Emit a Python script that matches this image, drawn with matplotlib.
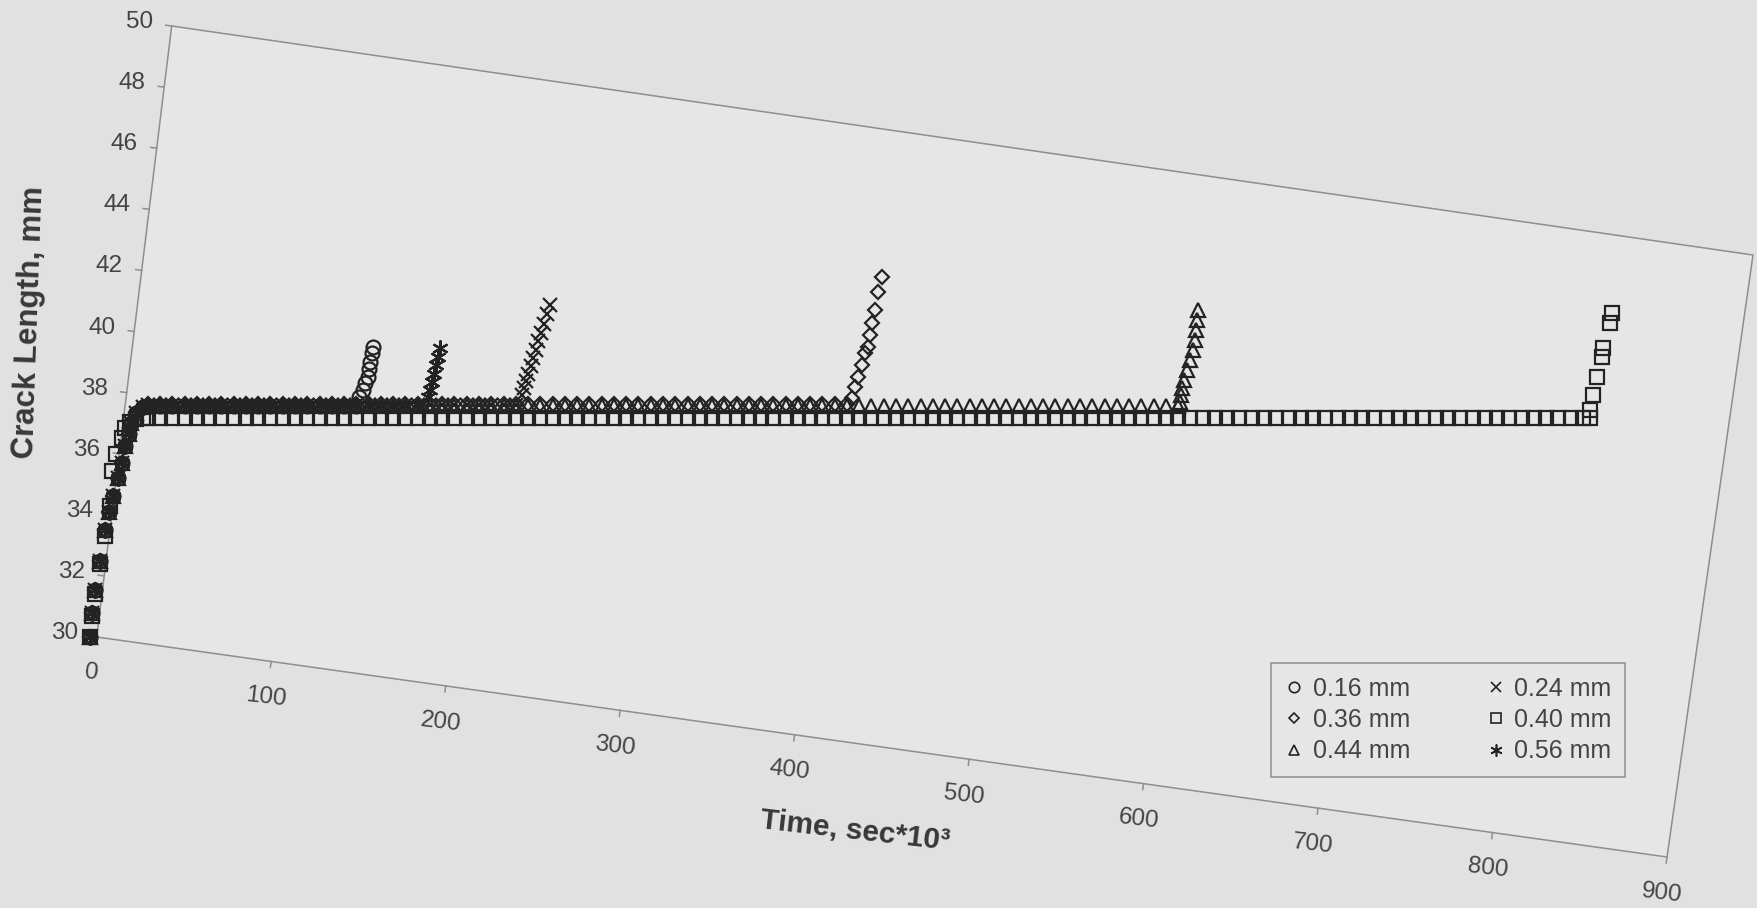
import matplotlib
matplotlib.use("Agg")
import matplotlib.pyplot as plt
from matplotlib.patches import Polygon

plt.rcParams['font.family'] = ['Liberation Sans', 'DejaVu Sans']

# ---------------- data (time in sec*10^3, crack length in mm) ----------------
x_ticks = [0, 100, 200, 300, 400, 500, 600, 700, 800, 900]
y_ticks = [30, 32, 34, 36, 38, 40, 42, 44, 46, 48, 50]

# sample times on the plateau
t_plateau = [33, 40, 47, 54, 61, 68, 75, 82, 89, 96,
             103, 110, 117, 124, 131, 138, 145, 152, 159, 166,
             173, 180, 187, 194, 201, 208, 215, 222, 229, 236,
             243, 250, 257, 264, 271, 278, 285, 292, 299, 306,
             313, 320, 327, 334, 341, 348, 355, 362, 369, 376,
             383, 390, 397, 404, 411, 418, 425, 432, 439, 446,
             453, 460, 467, 474, 481, 488, 495, 502, 509, 516,
             523, 530, 537, 544, 551, 558, 565, 572, 579, 586,
             593, 600, 607, 614, 621, 628, 635, 642, 649, 656,
             663, 670, 677, 684, 691, 698, 705, 712, 719, 726,
             733, 740, 747, 754, 761, 768, 775, 782, 789, 796,
             803, 810, 817, 824, 831, 838, 845, 852]

# initial growth (common to most notches)
t_start_common = [0, 1, 3, 5.7, 8.6, 11, 13.3, 16, 18, 20, 22, 23.5, 26, 30]
len_start_common = [30.0, 30.8, 31.55, 32.5, 33.5, 34.1, 34.6, 35.2, 35.7, 36.25, 36.65, 37.0, 37.33, 37.52]
t_start_040 = [0, 1, 3, 5.7, 8.6, 11.4, 12.4, 15, 18, 20, 23, 26, 30]
len_start_040 = [30.0, 30.7, 31.4, 32.4, 33.3, 34.3, 35.45, 36.0, 36.5, 36.85, 37.05, 37.15, 37.18]

# plateau values
len_plat_016 = [37.55, 37.55, 37.55, 37.55, 37.55, 37.55, 37.55, 37.55, 37.55, 37.55,
                37.55, 37.55, 37.55, 37.55, 37.55, 37.55, 37.55, 37.55]
len_plat_056 = [37.58, 37.58, 37.58, 37.58, 37.58, 37.58, 37.58, 37.58, 37.58, 37.58,
                37.58, 37.58, 37.58, 37.58, 37.58, 37.58, 37.58, 37.58, 37.58, 37.58,
                37.58, 37.58, 37.58]
len_plat_024 = [37.6, 37.6, 37.6, 37.6, 37.6, 37.6, 37.6, 37.6, 37.6, 37.6,
                37.6, 37.6, 37.6, 37.6, 37.6, 37.6, 37.6, 37.6, 37.6, 37.6,
                37.6, 37.6, 37.6, 37.6, 37.6, 37.6, 37.6, 37.6, 37.6, 37.6,
                37.6]
len_plat_036 = [37.62, 37.62, 37.62, 37.62, 37.62, 37.62, 37.62, 37.62, 37.62, 37.62,
                37.62, 37.62, 37.62, 37.62, 37.62, 37.62, 37.62, 37.62, 37.62, 37.62,
                37.62, 37.62, 37.62, 37.62, 37.62, 37.62, 37.62, 37.62, 37.62, 37.62,
                37.62, 37.62, 37.62, 37.62, 37.62, 37.62, 37.62, 37.62, 37.62, 37.62,
                37.62, 37.62, 37.62, 37.62, 37.62, 37.62, 37.62, 37.62, 37.62, 37.62,
                37.62, 37.62, 37.62, 37.62, 37.62, 37.62, 37.62, 37.62]
len_plat_044 = [37.55, 37.55, 37.55, 37.55, 37.55, 37.55, 37.55, 37.55, 37.55, 37.55,
                37.55, 37.55, 37.55, 37.55, 37.55, 37.55, 37.55, 37.55, 37.55, 37.55,
                37.55, 37.55, 37.55, 37.55, 37.55, 37.55, 37.55, 37.55, 37.55, 37.55,
                37.55, 37.55, 37.55, 37.55, 37.55, 37.55, 37.55, 37.55, 37.55, 37.55,
                37.55, 37.55, 37.55, 37.55, 37.55, 37.55, 37.55, 37.55, 37.55, 37.55,
                37.55, 37.55, 37.55, 37.55, 37.55, 37.55, 37.55, 37.55, 37.55, 37.55,
                37.55, 37.55, 37.55, 37.55, 37.55, 37.55, 37.55, 37.55, 37.55, 37.55,
                37.55, 37.55, 37.55, 37.55, 37.55, 37.55, 37.55, 37.55, 37.55, 37.55,
                37.55, 37.55, 37.55, 37.55, 37.55]
len_plat_040 = [37.18, 37.18, 37.18, 37.18, 37.18, 37.18, 37.18, 37.18, 37.18, 37.18,
                37.18, 37.18, 37.18, 37.18, 37.18, 37.18, 37.18, 37.18, 37.18, 37.18,
                37.18, 37.18, 37.18, 37.18, 37.18, 37.18, 37.18, 37.18, 37.18, 37.18,
                37.18, 37.18, 37.18, 37.18, 37.18, 37.18, 37.18, 37.18, 37.18, 37.18,
                37.18, 37.18, 37.18, 37.18, 37.18, 37.18, 37.18, 37.18, 37.18, 37.18,
                37.18, 37.18, 37.18, 37.18, 37.18, 37.18, 37.18, 37.18, 37.18, 37.18,
                37.18, 37.18, 37.18, 37.18, 37.18, 37.18, 37.18, 37.18, 37.18, 37.18,
                37.18, 37.18, 37.18, 37.18, 37.18, 37.18, 37.18, 37.18, 37.18, 37.18,
                37.18, 37.18, 37.18, 37.18, 37.18, 37.18, 37.18, 37.18, 37.18, 37.18,
                37.18, 37.18, 37.18, 37.18, 37.18, 37.18, 37.18, 37.18, 37.18, 37.18,
                37.18, 37.18, 37.18, 37.18, 37.18, 37.18, 37.18, 37.18, 37.18, 37.18,
                37.18, 37.18, 37.18, 37.18, 37.18, 37.18, 37.18, 37.18]

# final unstable growth
t_rise_016 = [153.7, 155.6, 156.9, 158.5, 159.4, 159.8, 160.8, 161.3]
len_rise_016 = [37.85, 38.09, 38.31, 38.52, 38.76, 39.01, 39.28, 39.48]
t_rise_056 = [193.1, 194.2, 195.3, 196.4, 197.5, 198.6, 199.7]
len_rise_056 = [37.86, 38.10, 38.35, 38.62, 38.90, 39.18, 39.45]
t_rise_024 = [246.4, 247.6, 248.9, 250.2, 251.5, 252.9, 254.3, 255.7, 257.3, 258.9, 260.6, 262.5]
len_rise_024 = [37.92, 38.15, 38.38, 38.62, 38.87, 39.13, 39.40, 39.68, 39.96, 40.26, 40.56, 40.87]
t_rise_036 = [434.7, 436.6, 438.5, 440.5, 442.3, 444.2, 445.2, 446.2, 448.0, 449.9, 451.8]
len_rise_036 = [37.81, 38.17, 38.52, 38.90, 39.28, 39.50, 39.89, 40.27, 40.70, 41.30, 41.79]
t_rise_044 = [622.1, 622.5, 623.0, 624.4, 625.9, 627.8, 629.3, 630.6, 631.2, 631.9, 632.5]
len_rise_044 = [37.70, 37.92, 38.14, 38.41, 38.74, 39.07, 39.39, 39.72, 40.05, 40.38, 40.70]
t_rise_040 = [856.0, 856.0, 857.9, 860.2, 862.7, 863.6, 867.5, 868.4]
len_rise_040 = [37.16, 37.43, 37.92, 38.52, 39.18, 39.45, 40.27, 40.60]

labels = ['0.16 mm', '0.24 mm', '0.36 mm', '0.40 mm', '0.44 mm', '0.56 mm']


def series(t_start, l_start, l_plat, t_rise, l_rise):
    t = list(t_start) + t_plateau[:len(l_plat)] + list(t_rise)
    l = list(l_start) + list(l_plat) + list(l_rise)
    return t, l


data = {
    '0.16 mm': series(t_start_common, len_start_common, len_plat_016, t_rise_016, len_rise_016),
    '0.24 mm': series(t_start_common, len_start_common, len_plat_024, t_rise_024, len_rise_024),
    '0.36 mm': series(t_start_common, len_start_common, len_plat_036, t_rise_036, len_rise_036),
    '0.40 mm': series(t_start_040, len_start_040, len_plat_040, t_rise_040, len_rise_040),
    '0.44 mm': series(t_start_common, len_start_common, len_plat_044, t_rise_044, len_rise_044),
    '0.56 mm': series(t_start_common, len_start_common, len_plat_056, t_rise_056, len_rise_056),
}

# ---------------- figure ----------------
W, H = 1757, 908
fig = plt.figure(figsize=(W / 100, H / 100), dpi=100)
fig.patch.set_facecolor('#e1e1e1')

TXT = '#444444'
MK = '#232323'
FRAME = '#8e8e8e'

# skewed frame (as on the scanned page), corners in page pixels
BL = (96.7, 637.0)
BR = (1667.0, 857.0)
TL = (171.7, 26.0)
TR = (1753.0, 255.0)
XMIN, XMAX, YMIN, YMAX = 0, 900, 30, 50


def frame_pt(x, y):
    u = (x - XMIN) / (XMAX - XMIN)
    v = (y - YMIN) / (YMAX - YMIN)
    px = (1 - u) * (1 - v) * BL[0] + u * (1 - v) * BR[0] + (1 - u) * v * TL[0] + u * v * TR[0]
    py = (1 - u) * (1 - v) * BL[1] + u * (1 - v) * BR[1] + (1 - u) * v * TL[1] + u * v * TR[1]
    return px, py


fax = fig.add_axes([0, 0, 1, 1])
fax.set_xlim(0, W)
fax.set_ylim(H, 0)
fax.axis('off')

corners = [frame_pt(XMIN, YMIN), frame_pt(XMAX, YMIN), frame_pt(XMAX, YMAX), frame_pt(XMIN, YMAX)]
fax.add_patch(Polygon(corners, closed=True, facecolor='#e6e6e6', edgecolor=FRAME, lw=1.1))

for xv in x_ticks:
    px, py = frame_pt(xv, YMIN)
    fax.plot([px, px - 0.8], [py, py + 6], color=FRAME, lw=1.1)
    fax.text(px - 5, py + 36, str(xv), rotation=-6.6, ha='center', va='center',
             fontsize=17.5, color=TXT)

for yv in y_ticks:
    px, py = frame_pt(XMIN, yv)
    fax.plot([px, px - 6], [py, py - 0.8], color=FRAME, lw=1.1)
    fax.text(px - 19, py - 4, str(yv), ha='right', va='center', fontsize=17.5, color=TXT)

fax.text(30, 322, 'Crack Length, mm', rotation=88, ha='center', va='center',
         fontsize=22.5, fontweight='bold', color='#383838')
fax.text(855, 831, 'Time, sec*10³', rotation=-6.6, ha='center', va='center',
         fontsize=21.5, fontweight='bold', color='#383838')

# data axes (unskewed, as the data were printed)
X0, X1, YB, YT = 90.0, 1667.0, 637.0, 26.0
ax = fig.add_axes([X0 / W, (H - YB) / H, (X1 - X0) / W, (YB - YT) / H])
ax.set_xlim(XMIN, XMAX)
ax.set_ylim(YMIN, YMAX)
ax.axis('off')

styles = {
    '0.40 mm': dict(marker='s', ms=9.5, mfc='none'),
    '0.44 mm': dict(marker='^', ms=10, mfc='none'),
    '0.36 mm': dict(marker='D', ms=7, mfc='none'),
    '0.24 mm': dict(marker='x', ms=10.5),
    '0.56 mm': dict(marker=(6, 2, 0), ms=11.5),
    '0.16 mm': dict(marker='o', ms=10, mfc='none'),
}
handles = {}
for lab in ['0.40 mm', '0.44 mm', '0.36 mm', '0.24 mm', '0.56 mm', '0.16 mm']:
    t, l = data[lab]
    h, = ax.plot(t, l, linestyle='none', color=MK, mec=MK, mew=1.6, clip_on=False,
                 label=lab, **styles[lab])
    handles[lab] = h

order = ['0.16 mm', '0.36 mm', '0.44 mm', '0.24 mm', '0.40 mm', '0.56 mm']
leg = ax.legend([handles[k] for k in order], order, ncol=2, loc='center',
                bbox_to_anchor=(1448 / W, 1 - 720 / H), bbox_transform=fig.transFigure,
                fontsize=18, frameon=True, fancybox=False, edgecolor=FRAME,
                facecolor='#e6e6e6', framealpha=1, handlelength=0.8, handletextpad=0.35,
                columnspacing=3.0, labelspacing=0.3, borderpad=0.55, markerscale=0.75,
                labelcolor=TXT)
leg.get_frame().set_linewidth(1.1)
for lh in leg.legend_handles:
    lh.set_markeredgewidth(1.2)

fig.savefig('out.png', dpi=100, facecolor=fig.get_facecolor())
